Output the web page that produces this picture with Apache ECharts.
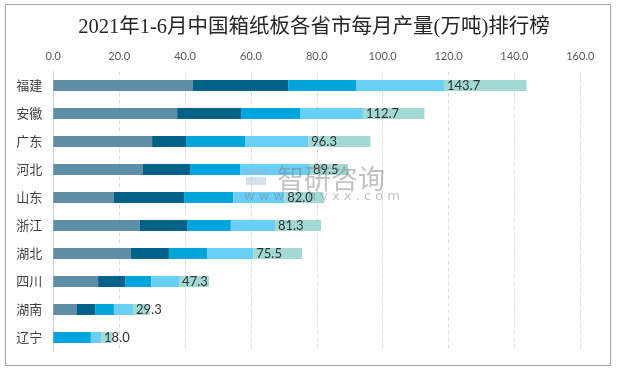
<!DOCTYPE html>
<html>
<head>
<meta charset="utf-8">
<script src="https://cdn.jsdelivr.net/npm/echarts@6/dist/echarts.min.js"></script>
<style>
html,body{margin:0;padding:0;background:#fff;}
#c{width:628px;height:371px;}
</style>
</head>
<body>
<div id="c"></div>
<script>
var categories = ['福建','安徽','广东','河北','山东','浙江','湖北','四川','湖南','辽宁'];
var seriesNames = ['1-2月','3月','4月','5月','6月'];
var s1 = [42.4, 37.6, 30.0, 27.2, 18.4, 26.3, 23.6, 13.6, 7.2, 0];
var s2 = [28.9, 19.4, 10.3, 14.3, 21.3, 14.3, 11.5, 8.2, 5.5, 0];
var s3 = [20.6, 17.9, 17.9, 15.2, 14.9, 13.3, 11.6, 7.9, 5.7, 11.4];
var s4 = [26.7, 19.1, 19.2, 21.2, 15.5, 13.4, 14.0, 8.5, 5.8, 3.1];
var s5 = [25.1, 18.7, 18.9, 11.6, 11.9, 14.0, 14.8, 9.1, 5.1, 3.5];
var totals = [143.7, 112.7, 96.3, 89.5, 82.0, 81.3, 75.5, 47.3, 29.3, 18.0];
var xTicks = [0, 20, 40, 60, 80, 100, 120, 140, 160];

var colors = ['#5E8FA6', '#006186', '#00A5DC', '#6ACEF5', '#A1D9D5'];
var allData = [s1, s2, s3, s4, s5];

var chart = echarts.init(document.getElementById('c'), null, {renderer: 'canvas'});

var series = allData.map(function (d, i) {
  var s = {
    name: seriesNames[i],
    type: 'bar',
    stack: 'total',
    barWidth: 11,
    data: d,
    itemStyle: {color: colors[i]},
    emphasis: {disabled: true}
  };
  if (i === 4) {
    s.label = {
      show: true,
      position: 'insideLeft',
      distance: 3,
      color: '#333333',
      fontSize: 13,
      fontFamily: 'Lato, "Noto Sans", sans-serif',
      formatter: function (p) { return totals[p.dataIndex].toFixed(1); }
    };
    s.labelLayout = {hideOverlap: false};
  }
  return s;
});

chart.setOption({
  animation: false,
  backgroundColor: '#ffffff',
  title: {
    text: '2021年1-6月中国箱纸板各省市每月产量(万吨)排行榜',
    left: 'center',
    top: 12,
    textStyle: {
      fontFamily: '"Liberation Serif", "Noto Sans CJK SC", serif',
      fontSize: 20.5,
      fontWeight: 'normal',
      color: '#262626'
    }
  },
  graphic: [
    {
      type: 'rect',
      shape: {x: 5.5, y: 4.5, width: 605, height: 361},
      style: {fill: 'none', stroke: '#A6A6A6', lineWidth: 1},
      silent: true,
      z: 100
    },
    {
      type: 'rect',
      shape: {x: 246, y: 169, width: 20, height: 5},
      style: {fill: 'rgba(150,180,210,0.4)'},
      silent: true,
      z: 100
    },
    {
      type: 'rect',
      shape: {x: 246, y: 177, width: 20, height: 8},
      style: {fill: 'rgba(150,180,210,0.4)'},
      silent: true,
      z: 100
    },
    {
      type: 'text',
      left: 277,
      top: 165,
      style: {
        text: '智研咨询',
        font: '27px "Noto Sans CJK SC", sans-serif',
        fill: 'rgba(120,120,120,0.45)'
      },
      silent: true,
      z: 100
    },
    {
      type: 'text',
      left: 244,
      top: 190,
      style: {
        text: 'w w w . c h y x x . c o m',
        font: '13px "DejaVu Sans", sans-serif',
        fill: 'rgba(120,120,120,0.45)'
      },
      silent: true,
      z: 100
    }
  ],
  grid: {
    left: 53.3,
    right: 47.7,
    top: 71.5,
    bottom: 19.5,
    containLabel: false
  },
  xAxis: {
    type: 'value',
    position: 'top',
    min: 0,
    max: 160,
    interval: 20,
    axisLine: {show: false},
    axisTick: {show: false},
    axisLabel: {
      margin: 10,
      color: '#595959',
      fontSize: 11,
      fontFamily: 'Lato, "Noto Sans", sans-serif',
      formatter: function (v) { return xTicks.indexOf(v) >= 0 ? v.toFixed(1) : ''; }
    },
    splitLine: {
      show: true,
      lineStyle: {color: '#DCDCDC', type: [4, 3], width: 1}
    }
  },
  yAxis: {
    type: 'category',
    data: categories,
    inverse: true,
    axisLine: {show: true, lineStyle: {color: '#D0D0D0', width: 1}},
    axisTick: {show: false},
    axisLabel: {
      margin: 11,
      color: '#404040',
      fontSize: 13,
      fontFamily: '"Noto Sans CJK SC", sans-serif'
    },
    splitLine: {show: false}
  },
  series: series
});
</script>
</body>
</html>
